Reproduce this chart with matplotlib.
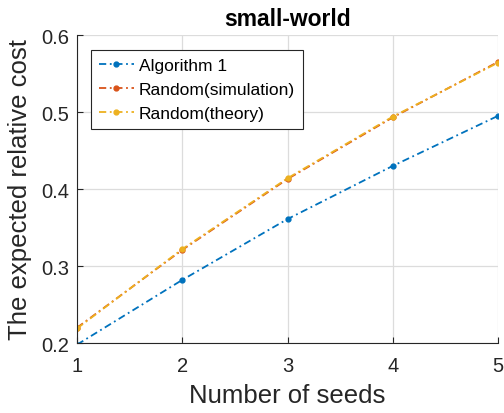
import matplotlib.pyplot as plt

seeds = [1, 2, 3, 4, 5]
alg1 = [0.198, 0.282, 0.361, 0.430, 0.495]
rand_sim = [0.220, 0.321, 0.413, 0.493, 0.565]
rand_theory = [0.219, 0.322, 0.414, 0.494, 0.564]

labels = ["Algorithm 1", "Random(simulation)", "Random(theory)"]
colors = ["#0072BD", "#D95319", "#EDB120"]

plt.rcParams['font.family'] = ['Liberation Sans', 'DejaVu Sans']

fig = plt.figure(figsize=(5.04, 4.14), dpi=100)
ax = fig.add_axes([0.153, 0.169, 0.835, 0.744])

for ys, lab, c in zip([alg1, rand_sim, rand_theory], labels, colors):
    ax.plot(seeds, ys, linestyle=(0, (4, 2, 1, 2)), marker='.', markersize=7,
            color=c, lw=1.3, label=lab)

ax.set_xlim(1, 5)
ax.set_ylim(0.2, 0.6)
ax.set_xticks(seeds)
ax.set_yticks([0.2, 0.3, 0.4, 0.5, 0.6])
ax.grid(True, color='#dcdcdc', lw=0.9)
ax.set_axisbelow(True)
for s in ['top', 'right']:
    ax.spines[s].set_visible(False)
for s in ['left', 'bottom']:
    ax.spines[s].set_color('#262626')
ax.tick_params(direction='in', labelsize=14.5, colors='#262626', length=4)
ax.tick_params(axis='x', pad=9)
ax.tick_params(axis='y', pad=6)

ax.set_xlabel("Number of seeds", fontsize=18.5, color='#262626', labelpad=6)
ax.set_ylabel("The expected relative cost", fontsize=18.5, color='#262626', labelpad=6)
ax.set_title("small-world", fontsize=16.5, fontweight='bold', pad=7)

leg = ax.legend(loc='upper left', bbox_to_anchor=(0.033, 0.951), fontsize=12.5, fancybox=False,
                edgecolor='#262626', framealpha=1, handlelength=2.0, handletextpad=0.3,
                borderpad=0.45, labelspacing=0.5, borderaxespad=0)
leg.get_frame().set_linewidth(0.8)

fig.savefig("out.png", dpi=100)
